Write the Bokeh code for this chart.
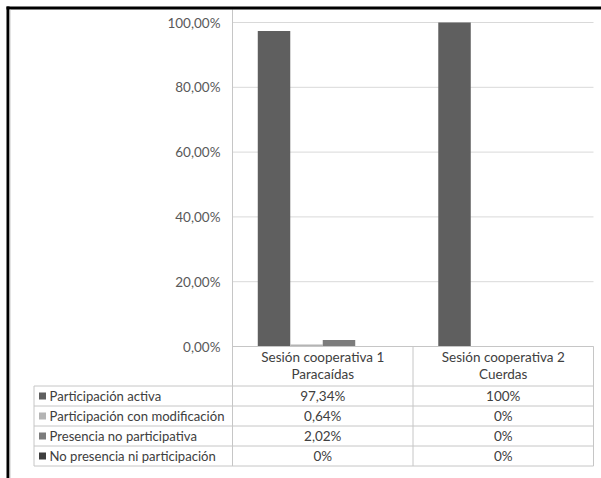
from bokeh.plotting import figure
from bokeh.models import Range1d, ColumnDataSource
from bokeh.core.properties import value
from bokeh.embed import file_html
from bokeh.resources import INLINE

# Sessions (categories) and the activity played in each
sessions = ["Sesión cooperativa 1", "Sesión cooperativa 2"]
activities = ["Paracaídas", "Cuerdas"]

# Series, values in percent per session
series_names = [
    "Participación activa",
    "Participación con modificación",
    "Presencia no participativa",
    "No presencia ni participación",
]
participacion_activa = [97.34, 100.0]
participacion_modificacion = [0.64, 0.0]
presencia_no_participativa = [2.02, 0.0]
no_presencia_ni_participacion = [0.0, 0.0]
series_values = [
    participacion_activa,
    participacion_modificacion,
    presencia_no_participativa,
    no_presencia_ni_participacion,
]
series_colors = ["#5f5f5f", "#b4b4b4", "#7c7c7c", "#3e3e3e"]

y_ticks = [0, 20, 40, 60, 80, 100]
y_tick_labels = ["0,00%", "20,00%", "40,00%", "60,00%", "80,00%", "100,00%"]

FONT = "Lato"
FONT_SIZE = "13.5px"
ROW_FONT_SIZE = "13.1px"
TEXT = "#404040"
GRID = "#d9d9d9"
RULE = "#c6c6c6"

# Page size and the pixel box of the value plot inside it
W, H = 601, 478
PLOT_L, PLOT_R, PLOT_T, PLOT_B = 232, 593, 22, 346
Y_MAX = 100
n_cat = len(sessions)


def dx(px):
    """pixel column -> category units (session i spans [i, i+1])"""
    return (px - PLOT_L) / (PLOT_R - PLOT_L) * n_cat


def dy(py):
    """pixel row -> percent units"""
    return (PLOT_B - py) / (PLOT_B - PLOT_T) * Y_MAX


p = figure(
    width=W, height=H,
    output_backend="svg", toolbar_location=None,
    x_range=Range1d(dx(0), dx(W)), y_range=Range1d(dy(H), dy(0)),
    min_border=0,
)
p.min_border_left = p.min_border_right = p.min_border_top = p.min_border_bottom = 0
p.outline_line_color = None
p.background_fill_color = "white"
p.border_fill_color = "white"
p.axis.visible = False
p.grid.visible = False


def rules(x0, x1, y0, y1, color, width=1):
    p.segment(x0=x0, x1=x1, y0=y0, y1=y1, line_color=color, line_width=width)


def texts(xs, ys, strs, align="center", color=TEXT, size=FONT_SIZE):
    p.text(x=xs, y=ys, text=strs, text_align=align, text_baseline="middle",
           text_font=value(FONT), text_font_size=size, text_color=color)


def pct(v):
    if float(v).is_integer():
        return f"{int(v)}%"
    return f"{v:.2f}".replace(".", ",") + "%"


# value gridlines and tick labels
rules([0] * len(y_ticks), [n_cat] * len(y_ticks), y_ticks, y_ticks, GRID)
texts([dx(220)] * len(y_ticks), y_ticks, y_tick_labels, align="right", color="#595959")

# Clustered bars: four series side by side inside each session
bar_w = 0.18
gap = (1 - bar_w * len(series_names)) / 2
for j, (vals, col) in enumerate(zip(series_values, series_colors)):
    xs = [i + gap + bar_w * (j + 0.5) for i in range(n_cat)]
    src = ColumnDataSource(dict(x=xs, top=vals))
    p.vbar(x="x", top="top", bottom=0, width=bar_w, source=src,
           fill_color=col, line_color=None)

# Data table under the chart
TABLE_LEFT = 33.5
HEADER_BOTTOM = 385.5
ROW_H = 20
n_rows = len(series_names)
TABLE_BOTTOM = HEADER_BOTTOM + ROW_H * n_rows
col_edges = list(range(n_cat + 1))
col_centers = [i + 0.5 for i in range(n_cat)]

# value axis line, running down through the table
rules([0], [0], [dy(9)], [dy(TABLE_BOTTOM)], RULE)
# header box top and column separators
rules([0], [n_cat], [0], [0], RULE)
rules(col_edges[1:], col_edges[1:], [0] * n_cat, [dy(TABLE_BOTTOM)] * n_cat, RULE)
# row rules
row_lines = [dy(HEADER_BOTTOM + ROW_H * k) for k in range(n_rows + 1)]
rules([dx(TABLE_LEFT)] * len(row_lines), [n_cat] * len(row_lines), row_lines, row_lines, RULE)
rules([dx(TABLE_LEFT)], [dx(TABLE_LEFT)], [dy(HEADER_BOTTOM)], [dy(TABLE_BOTTOM)], RULE)

# header labels (session / activity)
texts(col_centers, [dy(356)] * n_cat, sessions)
texts(col_centers, [dy(373)] * n_cat, activities)

# rows: legend key, series name, values
row_centers = [dy(HEADER_BOTTOM + ROW_H * (k + 0.5)) for k in range(n_rows)]
p.rect(x=[dx(42)] * n_rows, y=row_centers, width=7, height=7,
       width_units="screen", height_units="screen",
       fill_color=series_colors, line_color=None)
texts([dx(49)] * n_rows, row_centers, series_names, align="left", size=ROW_FONT_SIZE)
for k, vals in enumerate(series_values):
    texts(col_centers, [row_centers[k]] * n_cat, [pct(v) for v in vals])

# outer frame of the chart area (left and top edges)
p.quad(left=[dx(6)], right=[dx(W)], top=[dy(6)], bottom=[dy(9)],
       fill_color="#000000", line_color=None)
p.quad(left=[dx(6)], right=[dx(9)], top=[dy(6)], bottom=[dy(H)],
       fill_color="#000000", line_color=None)
rules([dx(9.5)], [dx(9.5)], [dy(9)], [dy(H)], "#c8c8c8")

open("out.html", "w").write(file_html(p, INLINE))
